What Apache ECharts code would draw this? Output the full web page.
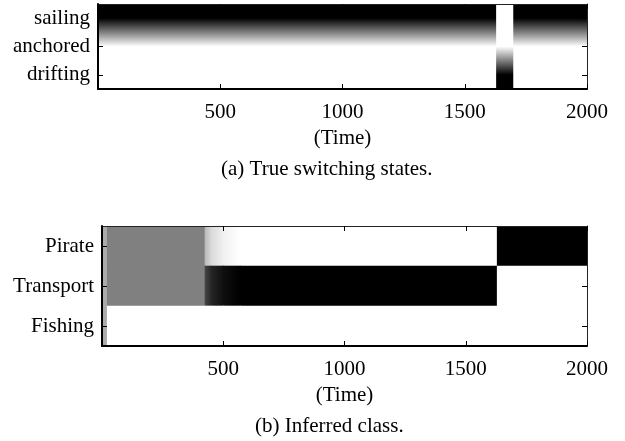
<!DOCTYPE html>
<html>
<head>
<meta charset="utf-8">
<script src="https://cdn.jsdelivr.net/npm/echarts@6/dist/echarts.min.js"></script>
<style>
html,body{margin:0;padding:0;background:#fff;}
#c{width:625px;height:441px;}
</style>
</head>
<body>
<div id="c"></div>
<script>
// ---- Data: (a) true switching states ----
const stateNames = ['sailing', 'anchored', 'drifting']; // top to bottom
const stateSegStart = [0, 1630, 1700];
const stateSegEnd = [1630, 1700, 2000];
const stateSegState = [0, 2, 0]; // index into stateNames

// ---- Data: (b) inferred class probabilities ----
const classNames = ['Pirate', 'Transport', 'Fishing']; // top to bottom
const classSegStart = [0, 22, 425, 450, 500, 570, 1630];
const classSegEnd = [22, 425, 450, 500, 570, 1630, 2000];
const pirateFrom = [0.33, 0.5, 0.28, 0.15, 0.06, 0, 1];
const pirateTo = [0.33, 0.5, 0.15, 0.06, 0, 0, 1];
const transportFrom = [0.33, 0.5, 0.72, 0.85, 0.94, 1, 0];
const transportTo = [0.33, 0.5, 0.85, 0.94, 1, 1, 0];
const fishingFrom = [0.33, 0, 0, 0, 0, 0, 0];
const fishingTo = [0.33, 0, 0, 0, 0, 0, 0];

const xTickLabels = ['500', '1000', '1500', '2000'];
const xMin = 0, xMax = 2000;

const captionA = '(a) True switching states.';
const captionB = '(b) Inferred class.';
const xName = '(Time)';

// ---- build ----
const FONT = 'Liberation Serif';
const FS = 21;
function grayOf(v) {
  const g = Math.round(255 * (1 - v));
  return 'rgb(' + g + ',' + g + ',' + g + ')';
}

const topCats = stateNames.slice().reverse();
const botCats = classNames.slice().reverse();

const topData = stateSegStart.map((s, i) => [s, stateSegEnd[i], stateSegState[i]]);
const classFrom = [pirateFrom, transportFrom, fishingFrom];
const classTo = [pirateTo, transportTo, fishingTo];
const botData = [];
classNames.forEach((name, ci) => {
  classSegStart.forEach((s, i) => {
    botData.push([s, classSegEnd[i], botCats.indexOf(name), classFrom[ci][i], classTo[ci][i]]);
  });
});

const grids = [
  {left: 98, right: 38, top: 4, height: 85},
  {left: 102, right: 38, top: 226, height: 120}
];

function xAxisMain(gi) {
  return {
    type: 'value', gridIndex: gi, min: xMin, max: xMax, interval: 500, z: 5,
    name: xName, nameLocation: 'middle', nameGap: 39,
    nameTextStyle: {fontFamily: FONT, fontSize: FS, color: '#000'},
    axisLine: {show: true, onZero: false, lineStyle: {color: '#000', width: 2}},
    axisTick: {show: true, inside: true, length: 5, lineStyle: {color: '#000', width: 1}},
    axisLabel: {
      fontFamily: FONT, fontSize: FS, color: '#000', margin: 13, showMinLabel: false,
      formatter: function (v) { const s = String(v); return xTickLabels.indexOf(s) >= 0 ? s : ''; }
    },
    splitLine: {show: false}
  };
}
function xAxisTop(gi) {
  return {
    type: 'value', gridIndex: gi, min: xMin, max: xMax, interval: 500, position: 'top', z: 5,
    axisLine: {show: true, onZero: false, lineStyle: {color: '#222', width: 1}},
    axisTick: {show: true, inside: true, length: 5, lineStyle: {color: '#000', width: 1}},
    axisLabel: {show: false}, splitLine: {show: false}
  };
}
function yAxisMain(gi, cats) {
  return {
    type: 'category', gridIndex: gi, data: cats, z: 5,
    axisLine: {show: true, onZero: false, lineStyle: {color: '#000', width: 2}},
    axisTick: {show: true, inside: true, alignWithLabel: true, length: 5, lineStyle: {color: '#000', width: 1}},
    axisLabel: {fontFamily: FONT, fontSize: FS, color: '#000', margin: 8},
    splitLine: {show: false}
  };
}
function yAxisRight(gi, cats) {
  return {
    type: 'category', gridIndex: gi, data: cats, position: 'right', z: 5,
    axisLine: {show: true, onZero: false, lineStyle: {color: '#222', width: 1}},
    axisTick: {show: true, inside: true, alignWithLabel: true, length: 5, lineStyle: {color: '#000', width: 1}},
    axisLabel: {show: false}, splitLine: {show: false}
  };
}

const option = {
  animation: false,
  backgroundColor: '#fff',
  grid: grids,
  xAxis: [xAxisMain(0), xAxisTop(0), xAxisMain(1), xAxisTop(1)],
  yAxis: [yAxisMain(0, topCats), yAxisRight(0, topCats), yAxisMain(1, botCats), yAxisRight(1, botCats)],
  graphic: [
    {type: 'text', top: 159, left: 221, style: {text: captionA, font: FS + 'px "' + FONT + '"', fill: '#000'}},
    {type: 'text', top: 416, left: 255, style: {text: captionB, font: FS + 'px "' + FONT + '"', fill: '#000'}}
  ],
  series: [
    {
      type: 'custom', xAxisIndex: 0, yAxisIndex: 0, clip: true, z: 2,
      data: topData,
      renderItem: function (params, api) {
        const t0 = api.value(0), t1 = api.value(1), s = api.value(2);
        const p0 = api.coord([t0, 0]);
        const p1 = api.coord([t1, 0]);
        const cs = params.coordSys;
        const vals = stateNames.map((_, i) => (i === s ? 1 : 0));
        return {
          type: 'rect',
          shape: {x: p0[0] - 0.4, y: cs.y, width: p1[0] - p0[0] + 0.8, height: cs.height},
          style: {
            fill: {
              type: 'linear', x: 0, y: 0, x2: 0, y2: 1,
              colorStops: [
                {offset: 0, color: grayOf(vals[0])},
                {offset: 1 / 6, color: grayOf(vals[0])},
                {offset: 0.5, color: grayOf(vals[1])},
                {offset: 5 / 6, color: grayOf(vals[2])},
                {offset: 1, color: grayOf(vals[2])}
              ]
            }
          }
        };
      }
    },
    {
      type: 'custom', xAxisIndex: 2, yAxisIndex: 2, clip: true, z: 2,
      data: botData,
      renderItem: function (params, api) {
        const t0 = api.value(0), t1 = api.value(1), r = api.value(2);
        const v0 = api.value(3), v1 = api.value(4);
        const p0 = api.coord([t0, r]);
        const p1 = api.coord([t1, r]);
        const h = api.size([0, 1])[1];
        return {
          type: 'rect',
          shape: {x: p0[0] - 0.4, y: p0[1] - h / 2 - 0.3, width: p1[0] - p0[0] + 0.8, height: h + 0.6},
          style: {
            fill: {
              type: 'linear', x: 0, y: 0, x2: 1, y2: 0,
              colorStops: [
                {offset: 0, color: grayOf(v0)},
                {offset: 1, color: grayOf(v1)}
              ]
            }
          }
        };
      }
    }
  ]
};
const chart = echarts.init(document.getElementById('c'), null, {renderer: 'canvas'});
chart.setOption(option);
</script>
</body>
</html>
